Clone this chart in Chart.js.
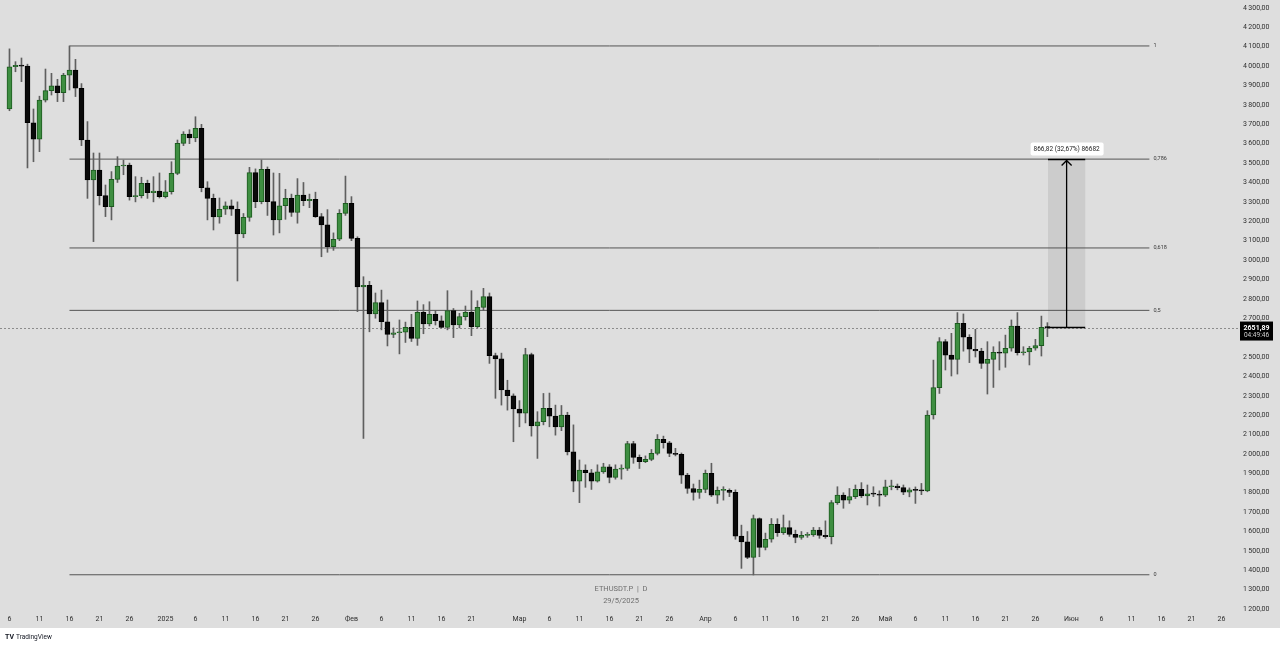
<!DOCTYPE html>
<html>
<head>
<meta charset="utf-8">
<script src="https://cdn.jsdelivr.net/npm/chart.js@4.4.1/dist/chart.umd.min.js"></script>
<style>
    html, body { margin: 0; padding: 0; background: #ffffff; }
    #grafico { display: block; }
</style>
</head>
<body>
<canvas id="grafico" width="1280" height="646"></canvas>
<script>
// velas diarias ETHUSDT.P, de 6 dez 2024 ate 28 mai 2025 (indice = dia)
const abertura = [
    3779, 3997, 4004, 4000, 3708, 3623, 3825, 3874, 3898, 3863, 3953, 3979, 3886, 3619, 3413, 3464, 3332, 3275, 3416, 3485, 3490, 3327, 3332, 3396, 3348, 3355,
    3327, 3352, 3447, 3602, 3649, 3630, 3679, 3373, 3318, 3222, 3262, 3280, 3262, 3135, 3220, 3451, 3301, 3468, 3301, 3207, 3280, 3318, 3245, 3335, 3306, 3313, 3224, 3181, 3069, 3107, 3241,
    3293, 3112, 2862, 2870, 2722, 2780, 2682, 2617, 2625, 2628, 2653, 2596, 2730, 2670, 2720, 2687, 2653, 2739, 2665, 2708, 2730, 2656, 2756, 2811, 2507, 2490, 2330, 2300,
    2232, 2210, 2513, 2144, 2166, 2235, 2195, 2140, 2200, 2011, 1860, 1917, 1903, 1860, 1908, 1934, 1879, 1922, 1925, 2054, 1982, 1960, 1972, 2003, 2075, 2058, 2003, 1998, 1891, 1822, 1802,
    1817, 1900, 1788, 1812, 1812, 1802, 1576, 1547, 1467, 1667, 1518, 1560, 1637, 1594, 1620, 1585, 1570, 1580, 1582, 1607, 1580, 1574, 1749, 1788, 1762, 1780, 1817, 1783, 1795, 1793,
    1788, 1831, 1834, 1826, 1803, 1815, 1812, 1810, 2201, 2342, 2579, 2510, 2488, 2674, 2602, 2540, 2531, 2467, 2488, 2524, 2520, 2545, 2660, 2522, 2526, 2545, 2559, 2653
]
const maxima = [
    4089, 4023, 4042, 4010, 3779, 3845, 3985, 3963, 3932, 3963, 4104, 4035, 3910, 3714, 3552, 3552, 3387, 3456, 3533, 3515, 3500, 3430, 3427, 3412, 3430, 3449,
    3410, 3507, 3619, 3662, 3672, 3739, 3700, 3404, 3340, 3320, 3300, 3310, 3300, 3240, 3478, 3470, 3516, 3480, 3449, 3447, 3365, 3340, 3420, 3400, 3340, 3350, 3240, 3260, 3140, 3260, 3433,
    3327, 3120, 2914, 2890, 2830, 2845, 2794, 2650, 2691, 2680, 2720, 2789, 2770, 2785, 2740, 2712, 2842, 2750, 2725, 2763, 2842, 2790, 2854, 2830, 2520, 2520, 2380, 2310,
    2275, 2545, 2520, 2218, 2312, 2314, 2252, 2250, 2215, 2150, 1969, 1944, 1920, 1944, 1952, 1945, 1944, 1944, 2065, 2065, 1995, 1990, 2023, 2100, 2092, 2065, 2029, 2005, 1900, 1845, 1865,
    1917, 1952, 1830, 1831, 1820, 1815, 1633, 1600, 1685, 1670, 1592, 1667, 1666, 1685, 1655, 1607, 1600, 1595, 1621, 1621, 1655, 1760, 1831, 1800, 1822, 1840, 1852, 1840, 1831, 1810,
    1865, 1865, 1845, 1840, 1825, 1830, 1848, 2223, 2484, 2600, 2590, 2622, 2729, 2722, 2615, 2643, 2545, 2579, 2553, 2579, 2613, 2691, 2729, 2553, 2555, 2591, 2711, 2677
]
const minima = [
    3770, 3971, 3920, 3475, 3507, 3559, 3815, 3851, 3817, 3817, 3877, 3843, 3590, 3318, 3095, 3284, 3224, 3207, 3400, 3440, 3309, 3300, 3320, 3318, 3300, 3320,
    3320, 3340, 3440, 3590, 3600, 3610, 3352, 3207, 3155, 3190, 3235, 3230, 2892, 3115, 3200, 3270, 3290, 3230, 3129, 3140, 3210, 3225, 3190, 3280, 3270, 3220, 3017, 3040, 3050, 3100, 3230,
    3100, 2734, 2080, 2630, 2700, 2640, 2557, 2600, 2516, 2575, 2580, 2560, 2620, 2660, 2665, 2650, 2640, 2600, 2650, 2690, 2610, 2650, 2740, 2467, 2287, 2252, 2226, 2063,
    2140, 2160, 2092, 1977, 2150, 2140, 2097, 2120, 1995, 1805, 1749, 1828, 1817, 1855, 1900, 1851, 1870, 1870, 1915, 1952, 1925, 1955, 1965, 1995, 2030, 1986, 1990, 1848, 1797, 1762, 1771,
    1800, 1780, 1745, 1762, 1780, 1560, 1410, 1460, 1376, 1470, 1505, 1545, 1575, 1585, 1575, 1542, 1560, 1570, 1575, 1565, 1565, 1536, 1740, 1720, 1745, 1770, 1775, 1737, 1780, 1731,
    1780, 1815, 1815, 1790, 1779, 1745, 1790, 1805, 2180, 2312, 2433, 2402, 2412, 2530, 2471, 2500, 2441, 2309, 2343, 2433, 2447, 2530, 2510, 2510, 2459, 2535, 2505, 2605
]
const fechamento = [
    3997, 4004, 4000, 3708, 3623, 3825, 3874, 3898, 3863, 3954, 3979, 3886, 3619, 3413, 3464, 3332, 3275, 3416, 3485, 3490, 3327, 3332, 3396, 3348, 3355, 3327,
    3352, 3447, 3602, 3649, 3630, 3679, 3373, 3318, 3222, 3262, 3280, 3262, 3135, 3220, 3451, 3301, 3468, 3301, 3207, 3280, 3318, 3245, 3335, 3306, 3313, 3224, 3181, 3069, 3107, 3241, 3293,
    3112, 2862, 2870, 2722, 2780, 2682, 2617, 2625, 2628, 2653, 2596, 2730, 2670, 2720, 2687, 2653, 2739, 2665, 2708, 2730, 2656, 2756, 2811, 2507, 2490, 2330, 2300, 2232,
    2210, 2513, 2144, 2166, 2235, 2195, 2140, 2200, 2011, 1860, 1917, 1903, 1860, 1908, 1934, 1879, 1922, 1925, 2054, 1982, 1960, 1972, 2003, 2075, 2058, 2003, 1998, 1891, 1822, 1802, 1817,
    1900, 1788, 1812, 1812, 1802, 1576, 1547, 1467, 1667, 1518, 1560, 1637, 1594, 1620, 1585, 1570, 1580, 1582, 1607, 1580, 1574, 1749, 1788, 1762, 1780, 1817, 1783, 1795, 1793, 1788,
    1831, 1834, 1826, 1803, 1815, 1812, 1810, 2201, 2342, 2579, 2510, 2488, 2674, 2602, 2540, 2531, 2467, 2488, 2524, 2520, 2545, 2660, 2522, 2526, 2545, 2559, 2653, 2651.89
]

// eixo X: dia (indice) e texto de cada rotulo
const diasEixoX = [0, 5, 10, 15, 20, 26, 31, 36, 41, 46, 51, 57, 62, 67, 72, 77, 85, 90, 95, 100, 105, 110,
    116, 121, 126, 131, 136, 141, 146, 151, 156, 161, 166, 171, 177, 182, 187, 192, 197, 202]
const rotulosEixoX = ["6", "11", "16", "21", "26", "2025", "6", "11", "16", "21", "26", "Фев", "6", "11", "16", "21",
    "Мар", "6", "11", "16", "21", "26", "Апр", "6", "11", "16", "21", "26", "Май", "6", "11", "16", "21", "26",
    "Июн", "6", "11", "16", "21", "26"]

// eixo Y: precos com rotulo
const valoresEixoY = [1200, 1300, 1400, 1500, 1600, 1700, 1800, 1900, 2000, 2100, 2200, 2300, 2400, 2500, 2600, 2700,
    2800, 2900, 3000, 3100, 3200, 3300, 3400, 3500, 3600, 3700, 3800, 3900, 4000, 4100, 4200, 4300]

// fibonacci
const fibTopo = 4104
const fibFundo = 1377
const fibNiveis = [1, 0.786, 0.618, 0.5, 0]
const fibRotulos = ["1", "0,786", "0,618", "0,5", "0"]
const fibInicio = 10
const fibFim = 190

// preco atual e ferramenta de medida
const precoAtual = 2651.89
const precoTexto = "2651,89"
const tempoTexto = "04:49:46"
const medidaInicio = 173.1
const medidaFim = 179.3
const medidaTopo = 3518.71
const medidaTexto = "866,82 (32,67%) 86682"

const corFundo = "#dedede"
const corAlta = "#3e8e41"
const corAltaBorda = "#1c5a1f"
const corBaixa = "#0a0a0a"

function formatarPreco(v) {
    const partes = v.toFixed(2).split(".")
    const inteiro = partes[0].replace(/\B(?=(\d{3})+(?!\d))/g, "\u2009")
    return inteiro + "," + partes[1]
}

// tira o espaco extra que o chart.js deixa para os rotulos
function semPadding(escala) {
    escala.paddingTop = 0
    escala.paddingBottom = 0
    escala.paddingLeft = 0
    escala.paddingRight = 0
}

const pavios = abertura.map((_, i) => ({ x: i, y: [minima[i], maxima[i]] }))
const corpos = abertura.map((v, i) => ({ x: i, y: [v, fechamento[i]] }))
const alta = abertura.map((v, i) => fechamento[i] >= v)

const linhasFib = fibNiveis.map((n) => {
    const nivel = fibFundo + n * (fibTopo - fibFundo)
    return {
        type: "line",
        data: [{ x: fibInicio, y: nivel }, { x: fibFim, y: nivel }],
        borderColor: "#555555",
        borderWidth: 1,
        pointRadius: 0,
        order: 3
    }
})

const desenhos = {
    id: "desenhos",
    beforeDraw(chart) {
        const ctx = chart.ctx
        ctx.save()
        ctx.fillStyle = "#ffffff"
        ctx.fillRect(0, 0, chart.width, chart.height)
        ctx.fillStyle = corFundo
        ctx.fillRect(0, 0, chart.width, chart.chartArea.bottom + 16)
        ctx.restore()
    },
    beforeDatasetsDraw(chart) {
        const ctx = chart.ctx
        const area = chart.chartArea
        ctx.save()
        // marca d'agua
        ctx.fillStyle = "#6e6e6e"
        ctx.font = "7.5px Roboto"
        ctx.textAlign = "center"
        ctx.textBaseline = "middle"
        ctx.fillText("ETHUSDT.P  |  D", 621, 589)
        ctx.fillText("29/5/2025", 621, 601)

        // retangulo da medida
        const x = chart.scales.x
        const y = chart.scales.y
        const x1 = x.getPixelForValue(medidaInicio)
        const x2 = x.getPixelForValue(medidaFim)
        const yTopo = y.getPixelForValue(medidaTopo)
        const yBase = y.getPixelForValue(precoAtual)
        ctx.fillStyle = "rgba(140,140,140,0.22)"
        ctx.fillRect(x1, yTopo, x2 - x1, yBase - yTopo)

        // linha pontilhada do preco atual
        ctx.strokeStyle = "#8c8c8c"
        ctx.lineWidth = 1
        ctx.setLineDash([2, 2])
        ctx.beginPath()
        ctx.moveTo(area.left, Math.round(yBase) + 0.5)
        ctx.lineTo(area.right + 3, Math.round(yBase) + 0.5)
        ctx.stroke()
        ctx.restore()
    },
    afterDatasetsDraw(chart) {
        const ctx = chart.ctx
        const x = chart.scales.x
        const y = chart.scales.y
        ctx.save()

        // rotulos do fibonacci
        ctx.fillStyle = "#3a3a3a"
        ctx.font = "5.5px Roboto"
        ctx.textAlign = "left"
        ctx.textBaseline = "middle"
        fibNiveis.forEach((n, i) => {
            const nivel = fibFundo + n * (fibTopo - fibFundo)
            ctx.fillText(fibRotulos[i], x.getPixelForValue(fibFim) + 4, y.getPixelForValue(nivel))
        })

        // ferramenta de medida
        const x1 = x.getPixelForValue(medidaInicio)
        const x2 = x.getPixelForValue(medidaFim)
        const xm = (x1 + x2) / 2
        const yTopo = y.getPixelForValue(medidaTopo)
        const yBase = y.getPixelForValue(precoAtual)
        ctx.strokeStyle = "#000000"
        ctx.lineWidth = 1.6
        ctx.beginPath()
        ctx.moveTo(x1 - 1, yBase)
        ctx.lineTo(x2, yBase)
        ctx.moveTo(x1, yTopo)
        ctx.lineTo(x2, yTopo)
        ctx.stroke()
        ctx.lineWidth = 1.3
        ctx.beginPath()
        ctx.moveTo(xm, yBase)
        ctx.lineTo(xm, yTopo + 1)
        ctx.moveTo(xm - 5, yTopo + 6)
        ctx.lineTo(xm, yTopo + 1)
        ctx.lineTo(xm + 5, yTopo + 6)
        ctx.stroke()

        // caixa do texto da medida
        ctx.fillStyle = "#ffffff"
        ctx.beginPath()
        ctx.roundRect(xm - 36, yTopo - 17, 73, 13, 2)
        ctx.fill()
        ctx.fillStyle = "#222222"
        ctx.font = "6.5px Roboto"
        ctx.textAlign = "center"
        ctx.fillText(medidaTexto, xm, yTopo - 10.5)

        // etiqueta do preco atual
        const area = chart.chartArea
        ctx.fillStyle = "#000000"
        ctx.fillRect(area.right + 3, yBase - 6, 33, 19)
        ctx.fillStyle = "#ffffff"
        ctx.font = "bold 7px Roboto"
        ctx.textAlign = "center"
        ctx.fillText(precoTexto, area.right + 19.5, yBase + 0.5)
        ctx.fillStyle = "#d0d0d0"
        ctx.font = "6.5px Roboto"
        ctx.fillText(tempoTexto, area.right + 19.5, yBase + 8)

        // logo
        ctx.fillStyle = "#131722"
        ctx.textAlign = "left"
        ctx.font = "bold 7px Roboto"
        ctx.fillText("TV", 5, 637)
        ctx.font = "6.5px Roboto"
        ctx.fillText("TradingView", 16, 637)
        ctx.restore()
    }
}

Chart.defaults.font.family = "Roboto"

new Chart(document.getElementById("grafico"), {
    type: "bar",
    data: {
        datasets: [
            {
                data: pavios,
                backgroundColor: "#5f5f5f",
                barThickness: 1,
                grouped: false,
                order: 1
            },
            {
                data: corpos,
                backgroundColor: alta.map((a) => a ? corAlta : corBaixa),
                borderColor: alta.map((a) => a ? corAltaBorda : "#000000"),
                borderWidth: 1,
                borderSkipped: false,
                barThickness: 5,
                minBarLength: 1,
                grouped: false,
                order: 0
            },
            ...linhasFib
        ]
    },
    options: {
        responsive: false,
        animation: false,
        devicePixelRatio: 1,
        events: [],
        layout: { padding: { left: 0, right: 0, top: 0, bottom: 18 } },
        plugins: { legend: { display: false }, tooltip: { enabled: false } },
        scales: {
            x: {
                type: "linear",
                min: -1.58,
                max: 204.6,
                offset: false,
                grid: { display: false, drawTicks: false },
                border: { display: false },
                afterFit: (escala) => {
                    escala.height = 16
                    semPadding(escala)
                },
                afterBuildTicks: (escala) => { escala.ticks = diasEixoX.map((v) => ({ value: v })) },
                ticks: {
                    autoSkip: false,
                    maxRotation: 0,
                    padding: 3,
                    color: "#2e2e2e",
                    font: { size: 7 },
                    callback: (valor, index) => rotulosEixoX[index]
                }
            },
            y: {
                type: "linear",
                position: "right",
                min: 1185,
                max: 4341,
                grid: { display: false, drawTicks: false },
                border: { display: false },
                afterFit: (escala) => {
                    escala.width = 43
                    semPadding(escala)
                },
                afterBuildTicks: (escala) => { escala.ticks = valoresEixoY.map((v) => ({ value: v })) },
                ticks: {
                    crossAlign: "near",
                    padding: 6,
                    color: "#2e2e2e",
                    font: { size: 7 },
                    callback: (valor) => formatarPreco(valor)
                }
            }
        }
    },
    plugins: [desenhos]
})
</script>
</body>
</html>
